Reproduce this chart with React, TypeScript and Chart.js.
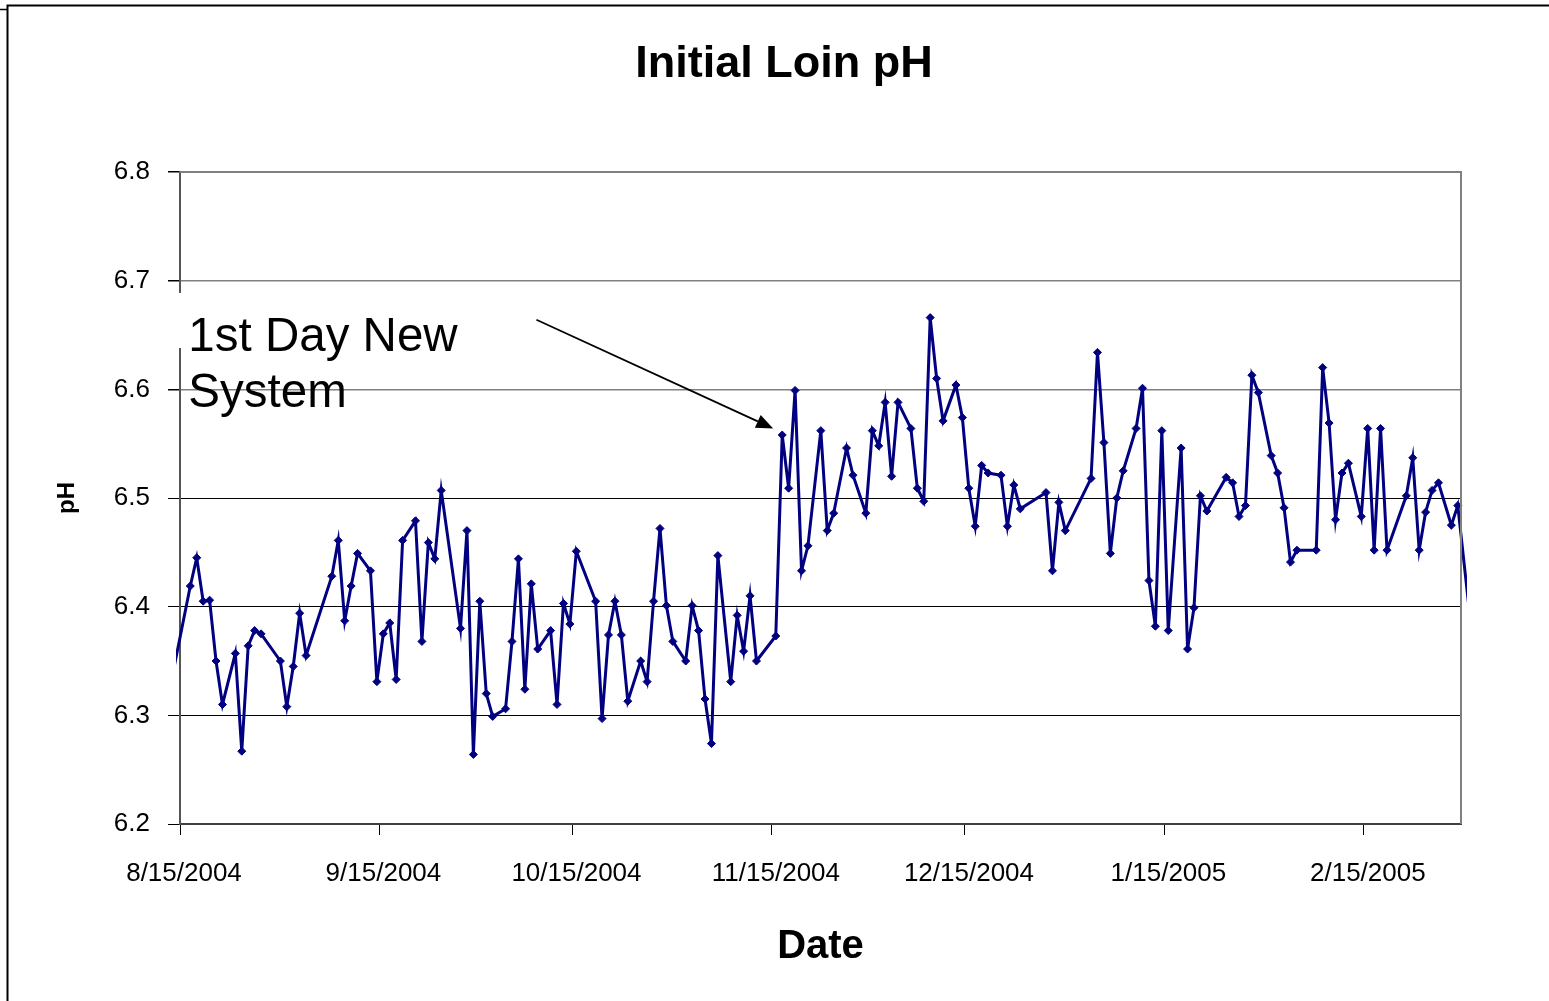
import React, { useEffect, useRef } from "react";
import { Chart, registerables } from "chart.js";

Chart.register(...registerables);

// Days after 8/15/2004 for each measurement
const dayOffsets = [
  -2, 1, 2, 3, 4, 5, 6, 8, 9, 10, 11, 12, 15, 16, 17, 18, 19, 23, 24, 25, 26, 27, 29, 30, 31, 32, 33, 34,
  36, 37, 38, 39, 40, 43, 44, 45, 46, 47, 48, 50, 51, 52, 53, 54, 55, 57, 58, 59, 60, 61, 64, 65, 66, 67,
  68, 69, 71, 72, 73, 74, 75, 76, 78, 79, 80, 81, 82, 83, 85, 86, 87, 88, 89, 92, 93, 94, 95, 96, 97, 99,
  100, 101, 103, 104, 106, 107, 108, 109, 110, 111, 113, 114, 115, 116, 117, 118, 120, 121, 122, 123, 124,
  125, 127, 128, 129, 130, 134, 135, 136, 137, 141, 142, 143, 144, 145, 146, 148, 149, 150, 151, 152, 153,
  155, 156, 157, 158, 159, 162, 163, 164, 165, 166, 167, 169, 170, 171, 172, 173, 176, 177, 178, 179, 180,
  181, 183, 184, 185, 186, 187, 190, 191, 192, 193, 194, 195, 197, 198, 200,
];

// Initial loin pH values
const phValues = [
  6.33, 6.419, 6.445, 6.405, 6.406, 6.35, 6.31, 6.357, 6.267, 6.364, 6.378, 6.375, 6.35, 6.308, 6.345, 6.394,
  6.355, 6.428, 6.461, 6.387, 6.419, 6.449, 6.433, 6.331, 6.375, 6.385, 6.333, 6.461,
  6.479, 6.368, 6.459, 6.444, 6.507, 6.38, 6.47, 6.264, 6.405, 6.32, 6.299, 6.306, 6.368, 6.444, 6.324,
  6.421, 6.361, 6.378, 6.31, 6.403, 6.384, 6.451, 6.405, 6.297, 6.374, 6.405,
  6.374, 6.313, 6.35, 6.331, 6.405, 6.472, 6.401, 6.368, 6.35, 6.401, 6.378, 6.315, 6.274, 6.447, 6.331,
  6.392, 6.359, 6.41, 6.35, 6.373, 6.558, 6.509, 6.599, 6.433, 6.456, 6.562,
  6.47, 6.486, 6.546, 6.521, 6.486, 6.562, 6.548, 6.588, 6.52, 6.588, 6.564, 6.509, 6.497, 6.666, 6.61,
  6.571, 6.604, 6.574, 6.509, 6.474, 6.53,
  6.523, 6.521, 6.474, 6.512, 6.49, 6.505, 6.433, 6.496, 6.47, 6.518, 6.634, 6.551, 6.449, 6.5, 6.525,
  6.564, 6.601, 6.424, 6.382, 6.562, 6.378,
  6.546, 6.361, 6.399, 6.502, 6.488, 6.519, 6.514, 6.483, 6.493, 6.613, 6.597, 6.539, 6.523, 6.491, 6.441,
  6.452, 6.452, 6.62, 6.569, 6.48, 6.523,
  6.532, 6.483, 6.564, 6.452, 6.564, 6.452, 6.502, 6.537, 6.452, 6.487, 6.507, 6.514, 6.475, 6.493, 6.385,
];

// Month tick positions (days after 8/15/2004) and their labels
const tickDays = [0, 31, 61, 92, 122, 153, 184];
const tickLabels = ["8/15/2004", "9/15/2004", "10/15/2004", "11/15/2004", "12/15/2004", "1/15/2005", "2/15/2005"];

const chartTitle = "Initial Loin pH";
const noteLines = ["1st Day New", "System"];

const FONT = "'Liberation Sans', Arial, sans-serif";

const overlay = {
  id: "overlay",
  afterDraw(chart: any) {
    const { ctx, chartArea: a, scales } = chart;
    const x = scales.x;
    const y = scales.y;
    ctx.save();

    // outer chart frame
    ctx.strokeStyle = "#000";
    ctx.lineWidth = 2;
    ctx.beginPath();
    ctx.moveTo(7.5, 1001);
    ctx.lineTo(7.5, 5.5);
    ctx.lineTo(1549, 5.5);
    ctx.stroke();
    ctx.lineWidth = 1.5;
    ctx.beginPath();
    ctx.moveTo(0, 9.5);
    ctx.lineTo(7, 9.5);
    ctx.stroke();

    // plot area top/right border
    ctx.strokeStyle = "#808080";
    ctx.lineWidth = 2;
    ctx.beginPath();
    ctx.moveTo(a.left, a.top);
    ctx.lineTo(a.right, a.top);
    ctx.lineTo(a.right, a.bottom);
    ctx.stroke();

    // title
    ctx.fillStyle = "#000";
    ctx.font = `bold 45px ${FONT}`;
    ctx.textAlign = "center";
    ctx.textBaseline = "alphabetic";
    ctx.fillText(chartTitle, 784, 77);

    // annotation
    const tx = x.getPixelForValue(1.3);
    const ty = y.getPixelForValue(6.6353);
    ctx.fillStyle = "#fff";
    ctx.fillRect(a.left - 4, ty - 58, 8, 55);
    ctx.fillStyle = "#000";
    ctx.font = `47.5px ${FONT}`;
    ctx.textAlign = "left";
    noteLines.forEach((t, i) => ctx.fillText(t, tx, ty + i * 56));

    // arrow
    const x0 = x.getPixelForValue(55.4);
    const y0 = y.getPixelForValue(6.664);
    const x1 = x.getPixelForValue(92.2);
    const y1 = y.getPixelForValue(6.564);
    const ang = Math.atan2(y1 - y0, x1 - x0);
    const hl = 17;
    const hw = 7;
    const bx = x1 - hl * Math.cos(ang);
    const by = y1 - hl * Math.sin(ang);
    ctx.strokeStyle = "#000";
    ctx.lineWidth = 1.8;
    ctx.beginPath();
    ctx.moveTo(x0, y0);
    ctx.lineTo(bx, by);
    ctx.stroke();
    ctx.beginPath();
    ctx.moveTo(x1, y1);
    ctx.lineTo(bx + hw * Math.sin(ang), by - hw * Math.cos(ang));
    ctx.lineTo(bx - hw * Math.sin(ang), by + hw * Math.cos(ang));
    ctx.closePath();
    ctx.fill();

    ctx.restore();
  },
};

export default function App() {
  const ref = useRef<HTMLCanvasElement | null>(null);

  useEffect(() => {
    if (!ref.current) return;
    // Excel date axis places each day's value at the middle of the day
    const points = dayOffsets.map((d, i) => ({ x: d + 0.6, y: phValues[i] }));
    const chart = new Chart(ref.current, {
      type: "line",
      data: {
        datasets: [
          {
            data: points,
            borderColor: "#000080",
            backgroundColor: "#000080",
            borderWidth: 3,
            pointStyle: "rectRot",
            pointRadius: 4,
            pointBorderWidth: 1,
            pointBorderColor: "#000080",
            tension: 0,
            clip: { left: 4, top: false, right: 6, bottom: false } as any,
          },
        ],
      },
      options: {
        responsive: false,
        animation: false,
        devicePixelRatio: 1,
        layout: { padding: { top: 172, right: 88, left: 0, bottom: 0 } },
        plugins: {
          legend: { display: false },
          tooltip: { enabled: false },
          title: { display: false },
        },
        scales: {
          x: {
            type: "linear",
            min: 0,
            max: 199.1,
            afterFit: (s: any) => {
              s.height = 177;
            },
            afterBuildTicks: (s: any) => {
              s.ticks = tickDays.map((v) => ({ value: v }));
            },
            border: { display: true, color: "#404040", width: 2 },
            grid: {
              display: true,
              drawOnChartArea: false,
              drawTicks: true,
              tickLength: 11,
              color: "#000",
              tickColor: "#000",
            },
            ticks: {
              autoSkip: false,
              maxRotation: 0,
              padding: 23,
              labelOffset: 4,
              color: "#000",
              font: { family: FONT, size: 26 },
              callback: (v: any) => {
                const i = tickDays.indexOf(Number(v));
                return i >= 0 ? tickLabels[i] : "";
              },
            },
            title: {
              display: true,
              text: "Date",
              color: "#000",
              font: { family: FONT, size: 40, weight: "bold" },
              padding: { top: 0, bottom: 30 },
            },
          },
          y: {
            min: 6.2,
            max: 6.8,
            afterFit: (s: any) => {
              s.width = 180;
            },
            border: { display: true, color: "#555", width: 2 },
            grid: {
              color: (c: any) => (c.tick && c.tick.value >= 6.55 ? "#808080" : "#000"),
              lineWidth: (c: any) => (c.tick && c.tick.value >= 6.55 ? 1.5 : 1),
              tickLength: 12,
              tickColor: "#000",
            },
            ticks: {
              stepSize: 0.1,
              padding: 18,
              color: "#000",
              font: { family: FONT, size: 26 },
              callback: (v: any) => Number(v).toFixed(1),
            },
            title: {
              display: true,
              text: "pH",
              color: "#000",
              font: { family: FONT, size: 24, weight: "bold" },
              padding: { top: 53, bottom: 0 },
            },
          },
        },
      },
      plugins: [overlay],
    });
    return () => chart.destroy();
  }, []);

  return (
    <div style={{ position: "absolute", left: 0, top: 0, width: 1549, height: 1001, background: "#fff" }}>
      <canvas ref={ref} width={1549} height={1001} style={{ display: "block" }} />
    </div>
  );
}
